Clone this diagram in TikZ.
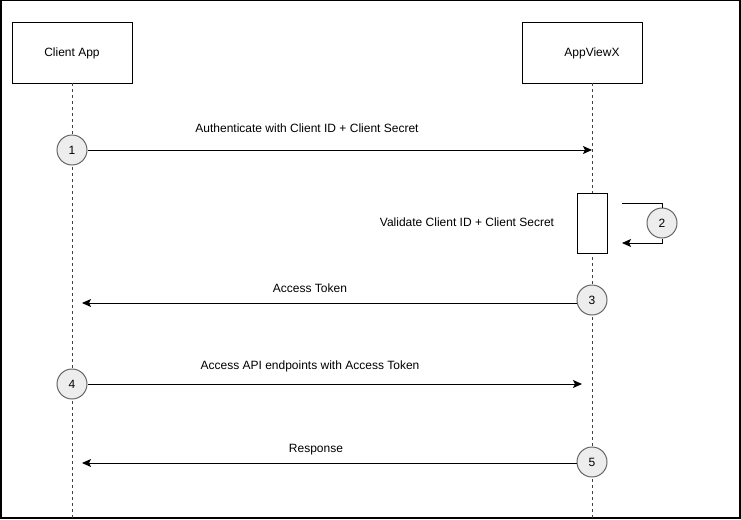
\documentclass[tikz,border=0pt]{standalone}
\usepackage{fontspec}
\setmainfont{Liberation Sans}
\usetikzlibrary{arrows.meta}
\begin{document}
\begin{tikzpicture}[x=1pt,y=-1pt,
  every node/.style={font=\fontsize{12}{14}\selectfont},
  actor/.style={draw=black,line width=1pt,minimum width=120pt,minimum height=60pt,inner sep=0pt},
  life/.style={draw=black!75,line width=1pt,dash pattern=on 3pt off 3pt},
  num/.style={circle,draw=black!60,fill=black!7,line width=1pt,minimum size=30pt,inner sep=0pt},
  msg/.style={draw=black,line width=1pt,-{Stealth[length=9pt,width=8pt,inset=2pt]}},
  lbl/.style={inner sep=0pt}]
\useasboundingbox (0,0) rectangle (741,519);
\draw[line width=1.5pt] (0.75,0.75) rectangle (740,518);
\node[actor] (ca) at (72,53) {Client App};
\node[actor,text width=100pt,align=center] (ax) at (582,53) {\hspace*{20pt}AppViewX};
\coordinate (caB) at (72,519);
\coordinate (axB) at (592,519);
\draw[life] (72,83) -- (caB);
\draw[life] (592,83) -- (axB);
\node[draw=black,line width=1pt,fill=white,minimum width=30pt,minimum height=60pt,inner sep=0pt] (act) at (592,223) {};
% 1
\node[num] (n1) at (72,150) {1};
\coordinate (e1) at (592,150);
\draw[msg] (n1) -- (e1);
\node[lbl] (t1) at (307,128) {Authenticate with Client ID + Client Secret};
% 2
\node[num] (n2) at (662,223) {2};
\coordinate (s2) at (622,203);
\coordinate (e2) at (622,243);
\draw[line width=1pt] (s2) -| (n2);
\draw[msg] (n2) |- (e2);
\node[lbl] (t2) at (467,222) {Validate Client ID + Client Secret};
% 3
\node[num] (n3) at (592,300) {3};
\coordinate (e3) at (82,303);
\draw[msg] (n3.west |- 0,303) -- (e3);
\node[lbl] (t3) at (310,288) {Access Token};
% 4
\node[num] (n4) at (72,384) {4};
\coordinate (e4) at (582,384);
\draw[msg] (n4) -- (e4);
\node[lbl] (t4) at (310,366) {Access API endpoints with Access Token};
% 5
\node[num] (n5) at (592,462) {5};
\coordinate (e5) at (82,463);
\draw[msg] (n5.west |- 0,463) -- (e5);
\node[lbl] (t5) at (316,450) {Response};
\end{tikzpicture}
\end{document}
